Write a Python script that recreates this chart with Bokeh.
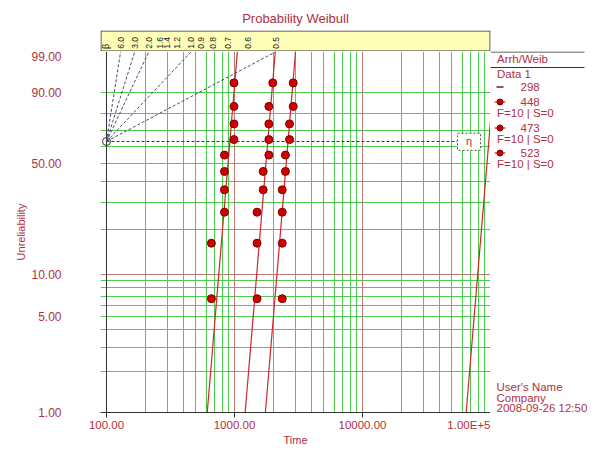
import numpy as np
from bokeh.plotting import figure
from bokeh.layouts import column, row
from bokeh.models import Range1d, FixedTicker, Grid, Span
from bokeh.core.properties import value
from bokeh.embed import file_html
from bokeh.resources import INLINE

# ---------------- data ----------------
x_ticks = [100, 1000, 10000, 100000]
x_tick_labels = ["100.00", "1000.00", "10000.00", "1.00E+5"]
y_ticks_pct = [1, 5, 10, 50, 90, 99]
y_tick_labels = ["1.00", "5.00", "10.00", "50.00", "90.00", "99.00"]
grid_x_green = [200, 300, 400, 500, 600, 700, 800, 900,
                2000, 3000, 4000, 5000, 6000, 7000, 8000, 9000,
                20000, 30000, 40000, 50000, 60000, 70000, 80000, 90000]
grid_x_red = [1000, 10000]
grid_y_green_pct = [2, 3, 4, 5, 6, 7, 8, 9, 20, 30, 40, 50, 60, 70, 80, 90]
grid_y_red_pct = [10]
beta_scale = [6.0, 3.0, 2.0, 1.6, 1.4, 1.2, 1.0, 0.9, 0.8, 0.7, 0.6, 0.5]
beta_scale_labels = ["6.0", "3.0", "2.0", "1.6", "1.4", "1.2", "1.0", "0.9", "0.8", "0.7", "0.6", "0.5"]
beta_dashed = [6.0, 3.0, 2.0, 1.0, 0.5]

stress = ["298", "448", "473", "523"]
rank_pct = [6.7, 16.3, 26.0, 35.6, 45.2, 54.8, 64.4, 74.0, 83.7, 93.3]
times_448 = [660, 660, 835, 835, 835, 835, 990, 990, 990, 990]
times_473 = [1500, 1500, 1500, 1675, 1675, 1855, 1855, 1855, 1855, 1990]
times_523 = [2360, 2360, 2360, 2360, 2500, 2500, 2690, 2690, 2875, 2875]
beta_fit = 11.3
eta_fit = [97000, 920, 1820, 2620]   # 298, 448, 473, 523
counts_f = [10, 10, 10]
counts_s = [0, 0, 0]

user_lines = ["User's Name", "Company", "2008-09-26 12:50"]

# ---------------- style / layout ----------------
FONT = "Liberation Sans"
TXT = "#b03040"
GREEN = "#4ccc4c"
REDGRID = "#c07878"
AXIS = "#333333"
YELLOW = "#ffffb8"
PT_FILL = "#d00000"
PT_LINE = "#7a0000"
FIT = "#d02828"

W, H = 594, 452
FL, FR = 100, 490          # frame left / right (px)
TOP_H = 51                 # height of title + beta band strip
BAND_TOP = 30
FRAME_BOTTOM = 412         # bottom of the plotting frame (px)
X100_PX, DEC_PX = 106, 128


def wb(pct):
    return np.log(-np.log(1.0 - np.asarray(pct, dtype=float) / 100.0))


def xd(px):
    return 100 * 10 ** ((px - X100_PX) / DEC_PX)


y_lo = float(wb(1))
y_99 = float(wb(99))
x_start = xd(FL)
xr = Range1d(x_start, x_ticks[-1])

# ================= top strip: title + beta scale band =================
top = figure(width=W, height=TOP_H, x_axis_type="log", x_range=xr,
             y_range=Range1d(TOP_H, BAND_TOP),
             x_axis_location=None, y_axis_location=None,
             output_backend="svg", toolbar_location=None,
             min_border_left=FL, min_border_right=W - FR, min_border_top=BAND_TOP,
             min_border_bottom=0)
top.outline_line_color = None
top.xgrid.visible = False
top.ygrid.visible = False
top.title.text = "Probability Weibull"
top.title.align = "center"
top.title.text_font = FONT
top.title.text_font_size = "13px"
top.title.text_font_style = "normal"
top.title.text_color = TXT
top.title.standoff = 9

top.quad(left=[xd(FL + 0.5)], right=[xd(FR - 0.5)], bottom=[TOP_H - 0.5], top=[BAND_TOP + 0.5],
         fill_color=YELLOW, line_color=AXIS, line_width=1)
top.text(x=[x_ticks[0] * np.exp(y_99 / b) for b in beta_scale], y=[36.5] * len(beta_scale),
         text=beta_scale_labels, angle=np.pi / 2, text_align="right", text_baseline="middle",
         text_font=value(FONT), text_font_size="8.5px", text_color="#222222")
top.text(x=[xd(105)], y=[46], text=["β"], angle=np.pi / 2, text_align="center",
         text_baseline="middle", text_font=value(FONT), text_font_size="9px", text_color="#222222")

# ================= main probability plot =================
p = figure(width=FR, height=H - TOP_H, x_axis_type="log", x_range=xr,
           y_range=Range1d(y_lo, y_99),
           output_backend="svg", toolbar_location=None,
           min_border_left=FL, min_border_right=0, min_border_top=0,
           min_border_bottom=H - FRAME_BOTTOM)
p.outline_line_color = None

xa = p.xaxis[0]
xa.ticker = FixedTicker(ticks=x_ticks)
xa.major_label_overrides = dict(zip(x_ticks, x_tick_labels))
xa.axis_label = "Time"
xa.axis_label_text_font = FONT
xa.axis_label_text_font_size = "11px"
xa.axis_label_text_font_style = "normal"
xa.axis_label_text_color = TXT
xa.axis_label_standoff = 0
xa.major_label_text_font = FONT
xa.major_label_text_font_size = "11.5px"
xa.major_label_text_color = TXT
xa.major_label_standoff = 1
xa.axis_line_color = AXIS
xa.major_tick_line_color = AXIS
xa.major_tick_out = 5
xa.major_tick_in = 0
xa.minor_tick_line_color = None

ya = p.yaxis[0]
yt = [float(v) for v in wb(y_ticks_pct)]
ya.ticker = FixedTicker(ticks=yt)
ya.major_label_overrides = dict(zip(yt, y_tick_labels))
ya.major_label_text_font = FONT
ya.major_label_text_font_size = "12px"
ya.major_label_text_color = TXT
ya.major_label_standoff = 33
ya.axis_line_color = None
ya.major_tick_line_color = None
ya.minor_tick_line_color = None
ya.axis_label = "Unreliability"
ya.axis_label_text_font = FONT
ya.axis_label_text_font_size = "11px"
ya.axis_label_text_font_style = "normal"
ya.axis_label_text_color = TXT
ya.axis_label_standoff = 1

p.xgrid.visible = False
p.ygrid.visible = False
p.add_layout(Grid(dimension=0, ticker=FixedTicker(ticks=grid_x_green), grid_line_color=GREEN))
p.add_layout(Grid(dimension=1, ticker=FixedTicker(ticks=[float(v) for v in wb(grid_y_green_pct)]),
                  grid_line_color=GREEN))
p.add_layout(Grid(dimension=0, ticker=FixedTicker(ticks=grid_x_red), grid_line_color=REDGRID))
p.add_layout(Grid(dimension=1, ticker=FixedTicker(ticks=[float(v) for v in wb(grid_y_red_pct)]),
                  grid_line_color=REDGRID))

# left axis line at t = 100 and right border
p.segment(x0=[x_ticks[0]], y0=[y_lo], x1=[x_ticks[0]], y1=[y_99], line_color=AXIS, line_width=1)
p.add_layout(Span(location=x_ticks[-1], dimension="height", line_color=AXIS, line_width=1))

# beta-scale guide lines from the pivot (t=100, F=63.2%)
p.multi_line(xs=[[x_ticks[0], x_ticks[0] * np.exp(y_99 / b)] for b in beta_dashed],
             ys=[[0.0, y_99] for b in beta_dashed],
             line_color="#4a4a78", line_dash="3 2", line_width=1)

# eta line, pivot circle, eta box
p.line([x_ticks[0], xd(457)], [0.0, 0.0], line_color="#502060", line_dash="3 2", line_width=1)
p.scatter([x_ticks[0]], [0.0], marker="circle", size=8, fill_color=None, line_color=AXIS)
p.quad(left=[xd(457)], right=[xd(480)], bottom=[-0.15], top=[0.14],
       fill_color="white", line_color="#555555", line_dash="2 2", line_width=1)
p.text(x=[xd(468.5)], y=[0.0], text=["η"], text_align="center", text_baseline="middle",
       text_font=value(FONT), text_font_size="11px", text_color=TXT)

# fitted lines
for eta in eta_fit:
    ts = [eta * np.exp(y_lo / beta_fit), eta * np.exp(y_99 / beta_fit)]
    p.line(ts, [y_lo, y_99], line_color=FIT, line_width=1.2)

# data points
yr = wb(rank_pct)
for ts in (times_448, times_473, times_523):
    p.scatter(ts, yr, marker="circle", size=8, fill_color=PT_FILL, line_color=PT_LINE, line_width=1)

# ================= right panel: legend & user info =================
# (its frame is aligned with the main frame: y runs from FRAME_BOTTOM up to TOP_H in px)
rp = figure(width=W - FR, height=H - TOP_H, x_range=Range1d(FR, W),
            y_range=Range1d(FRAME_BOTTOM, TOP_H),
            x_axis_location=None, y_axis_location=None,
            output_backend="svg", toolbar_location=None,
            min_border_left=0, min_border_right=0, min_border_top=0,
            min_border_bottom=H - FRAME_BOTTOM)
rp.outline_line_color = None
rp.xgrid.visible = False
rp.ygrid.visible = False

rp.segment(x0=[FR, FR], y0=[51.5, 67], x1=[584, 584], y1=[51.5, 67], line_color=AXIS, line_width=1)

lx, ly, lt = [496.5, 496.5, 520], [58.5, 73, 86.5], ["Arrh/Weib", "Data 1", stress[0]]
for i, (s, yy) in enumerate(zip(stress[1:], (101.5, 127.5, 152.5))):
    lx += [520, 496.5]
    ly += [yy, yy + 10.5]
    lt += [s, f"F={counts_f[i]} | S={counts_s[i]}"]
for t, yy in zip(user_lines, (386.5, 397.2, 407.8)):
    lx.append(496)
    ly.append(yy)
    lt.append(t)
rp.text(x=lx, y=ly, text=lt, text_align="left", text_baseline="middle",
        text_font=value(FONT), text_font_size="11.5px", text_color=TXT)

# legend symbols
rp.segment(x0=[496], y0=[86.5], x1=[503], y1=[86.5], line_color="#8a1020", line_width=1.5)
sym_y = [101.5, 127.5, 152.5]
rp.segment(x0=[494] * 3, y0=sym_y, x1=[505] * 3, y1=sym_y, line_color=PT_FILL, line_width=1)
rp.scatter([499.5] * 3, sym_y, marker="circle", size=6, fill_color=PT_FILL, line_color=PT_LINE)

layout = column(top, row(p, rp, spacing=0), spacing=0)
open("out.html", "w").write(file_html(layout, INLINE))
